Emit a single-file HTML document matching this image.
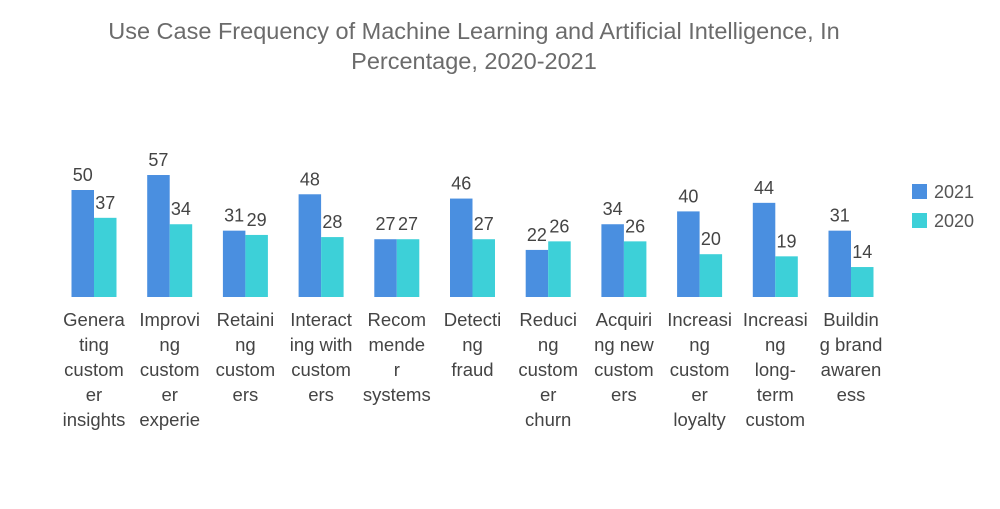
<!DOCTYPE html>
<html><head><meta charset="utf-8"><style>
body{margin:0;background:#fff;width:1000px;height:504px;overflow:hidden;font-family:"Liberation Sans",sans-serif}
svg text{font-family:"Liberation Sans",sans-serif}
</style></head><body>
<svg id="chart" width="1000" height="504">
<text x="474" y="39" text-anchor="middle" font-size="23.5" fill="#6b6b6b">Use Case Frequency of Machine Learning and Artificial Intelligence, In</text>
<text x="474" y="69" text-anchor="middle" font-size="23.5" fill="#6b6b6b">Percentage, 2020-2021</text>
<g>
<rect x="912" y="184" width="15" height="15" fill="#4a8fe0"/>
<text x="934" y="198" font-size="18" fill="#555">2021</text>
<rect x="912" y="213" width="15" height="15" fill="#3dd0d8"/>
<text x="934" y="227" font-size="18" fill="#555">2020</text>
</g>
<g id="bars"></g>
</svg>
<script>
const categories=[["Genera","ting","custom","er","insights"],["Improvi","ng","custom","er","experie"],["Retaini","ng","custom","ers"],["Interact","ing with","custom","ers"],["Recom","mende","r","systems"],["Detecti","ng","fraud"],["Reduci","ng","custom","er","churn"],["Acquiri","ng new","custom","ers"],["Increasi","ng","custom","er","loyalty"],["Increasi","ng","long-","term","custom"],["Buildin","g brand","awaren","ess"]];
const values2021=[50,57,31,48,27,46,22,34,40,44,31];
const values2020=[37,34,29,28,27,27,26,26,20,19,14];
const ns="http://www.w3.org/2000/svg";
const g=document.getElementById('bars');
const baseY=297, scale=2.14, x0=94, step=75.7, bw=22.5;
const yPos=v=>baseY-v*scale;
const xPos=i=>x0+i*step;
function mk(tag,attrs){const e=document.createElementNS(ns,tag);for(const k in attrs)e.setAttribute(k,attrs[k]);g.appendChild(e);return e;}
categories.forEach((lines,i)=>{
  const cx=xPos(i);
  [[values2021[i],"#4a8fe0",cx-bw,"2021"],[values2020[i],"#3dd0d8",cx,"2020"]].forEach(([v,c,x,s])=>{
    const r=mk('rect',{x:x,y:yPos(v),width:bw,height:v*scale,fill:c});
    
    
    const t=mk('text',{x:x+bw/2,y:yPos(v)-9,'text-anchor':'middle','font-size':18,fill:'#444'});
    t.textContent=v;
    
    
  });
  lines.forEach((ln,j)=>{
    const t=mk('text',{x:cx,y:326+j*25,'text-anchor':'middle','font-size':18.5,fill:'#444'});
    t.textContent=ln;
    
    
  });
});
</script>
</body></html>
